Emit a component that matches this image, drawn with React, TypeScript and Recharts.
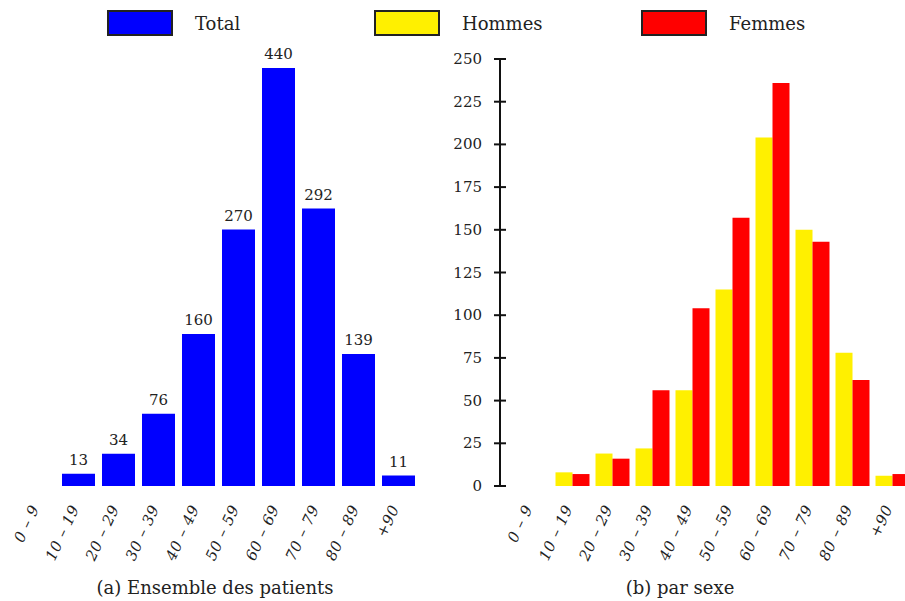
import { BarChart, Bar, XAxis, YAxis, LabelList } from "recharts";

const AGE_GROUPS = ["0 – 9", "10 – 19", "20 – 29", "30 – 39", "40 – 49", "50 – 59", "60 – 69", "70 – 79", "80 – 89", "+90"];
const TOTAL = [0, 13, 34, 76, 160, 270, 440, 292, 139, 11];
const HOMMES = [0, 8, 19, 22, 56, 115, 204, 150, 78, 6];
const FEMMES = [0, 7, 16, 56, 104, 157, 236, 143, 62, 7];
const Y_TICKS = [0, 25, 50, 75, 100, 125, 150, 175, 200, 225, 250];

const LEGEND = [
  { label: "Total", color: "#0000ff" },
  { label: "Hommes", color: "#fff000" },
  { label: "Femmes", color: "#ff0000" },
];

const SERIF = "'DejaVu Serif', 'Liberation Serif', serif";

const totalData = AGE_GROUPS.map((g, i) => ({ age: g, total: TOTAL[i] }));
const sexData = AGE_GROUPS.map((g, i) => ({ age: g, hommes: HOMMES[i], femmes: FEMMES[i] }));

const AgeTick = ({ x, y, payload }: any) => {
  const ax = x + 1;
  const ay = y + 14;
  return (
    <text
      x={ax}
      y={ay}
      transform={`rotate(-65, ${ax}, ${ay})`}
      textAnchor="end"
      fontFamily={SERIF}
      fontStyle="italic"
      fontSize={15}
      letterSpacing={0.6}
      fill="#222"
    >
      {payload.value}
    </text>
  );
};

const CountTick = ({ x, y, payload }: any) => (
  <g>
    <line x1={x + 12} x2={x + 24} y1={y} y2={y} stroke="#111" strokeWidth={2} />
    <text x={x} y={y} dy={5} textAnchor="end" fontFamily={SERIF} fontSize={15} fill="#222">
      {payload.value}
    </text>
  </g>
);

export default function App() {
  return (
    <div style={{ position: "relative", width: 905, height: 601, overflow: "hidden", background: "#fff", fontFamily: SERIF }}>
      <style>{`body { margin: 0; }`}</style>

      {/* legend */}
      {LEGEND.map((item, i) => (
        <div key={item.label} style={{ position: "absolute", left: 107 + i * 267, top: 10, display: "flex", alignItems: "center" }}>
          <div style={{ width: 62, height: 22, background: item.color, border: "2px solid #222" }} />
          <span style={{ marginLeft: 22, fontSize: 18, color: "#222" }}>{item.label}</span>
        </div>
      ))}

      {/* (a) total */}
      <div style={{ position: "absolute", left: 0, top: 0, width: 440, height: 601 }}>
        <BarChart
          width={440}
          height={601}
          data={totalData}
          margin={{ top: 68, right: 21.5, bottom: 85, left: 18.5 }}
          barCategoryGap="8.75%"
        >
          <XAxis dataKey="age" axisLine={false} tickLine={false} interval={0} height={30} tick={<AgeTick />} />
          <YAxis hide domain={[0, 440]} />
          <Bar dataKey="total" fill="#0000ff" isAnimationActive={false}>
            <LabelList
              dataKey="total"
              position="top"
              offset={9}
              formatter={(v: any) => (v ? v : "")}
              style={{ fontFamily: SERIF, fontSize: 15, fill: "#222" }}
            />
          </Bar>
        </BarChart>
      </div>

      {/* (b) par sexe */}
      <div style={{ position: "absolute", left: 440, top: 0, width: 480, height: 601 }}>
        <BarChart
          width={480}
          height={601}
          data={sexData}
          margin={{ top: 59, right: 8, bottom: 85, left: 0 }}
          barCategoryGap="8.75%"
          barGap={0}
        >
          <XAxis
            dataKey="age"
            axisLine={false}
            tickLine={false}
            interval={0}
            height={30}
            padding={{ left: 12, right: 0 }}
            tick={<AgeTick />}
          />
          <YAxis
            width={60}
            domain={[0, 250]}
            ticks={Y_TICKS}
            interval={0}
            tickLine={false}
            tickSize={6}
            tickMargin={12}
            axisLine={{ stroke: "#111", strokeWidth: 2 }}
            tick={<CountTick />}
          />
          <Bar dataKey="hommes" fill="#fff000" isAnimationActive={false} />
          <Bar dataKey="femmes" fill="#ff0000" isAnimationActive={false} />
        </BarChart>
      </div>

      {/* captions */}
      <div style={{ position: "absolute", left: 0, width: 430, top: 577, textAlign: "center", fontSize: 18, color: "#222" }}>
        (a) Ensemble des patients
      </div>
      <div style={{ position: "absolute", left: 460, width: 440, top: 577, textAlign: "center", fontSize: 18, color: "#222" }}>
        (b) par sexe
      </div>
    </div>
  );
}
